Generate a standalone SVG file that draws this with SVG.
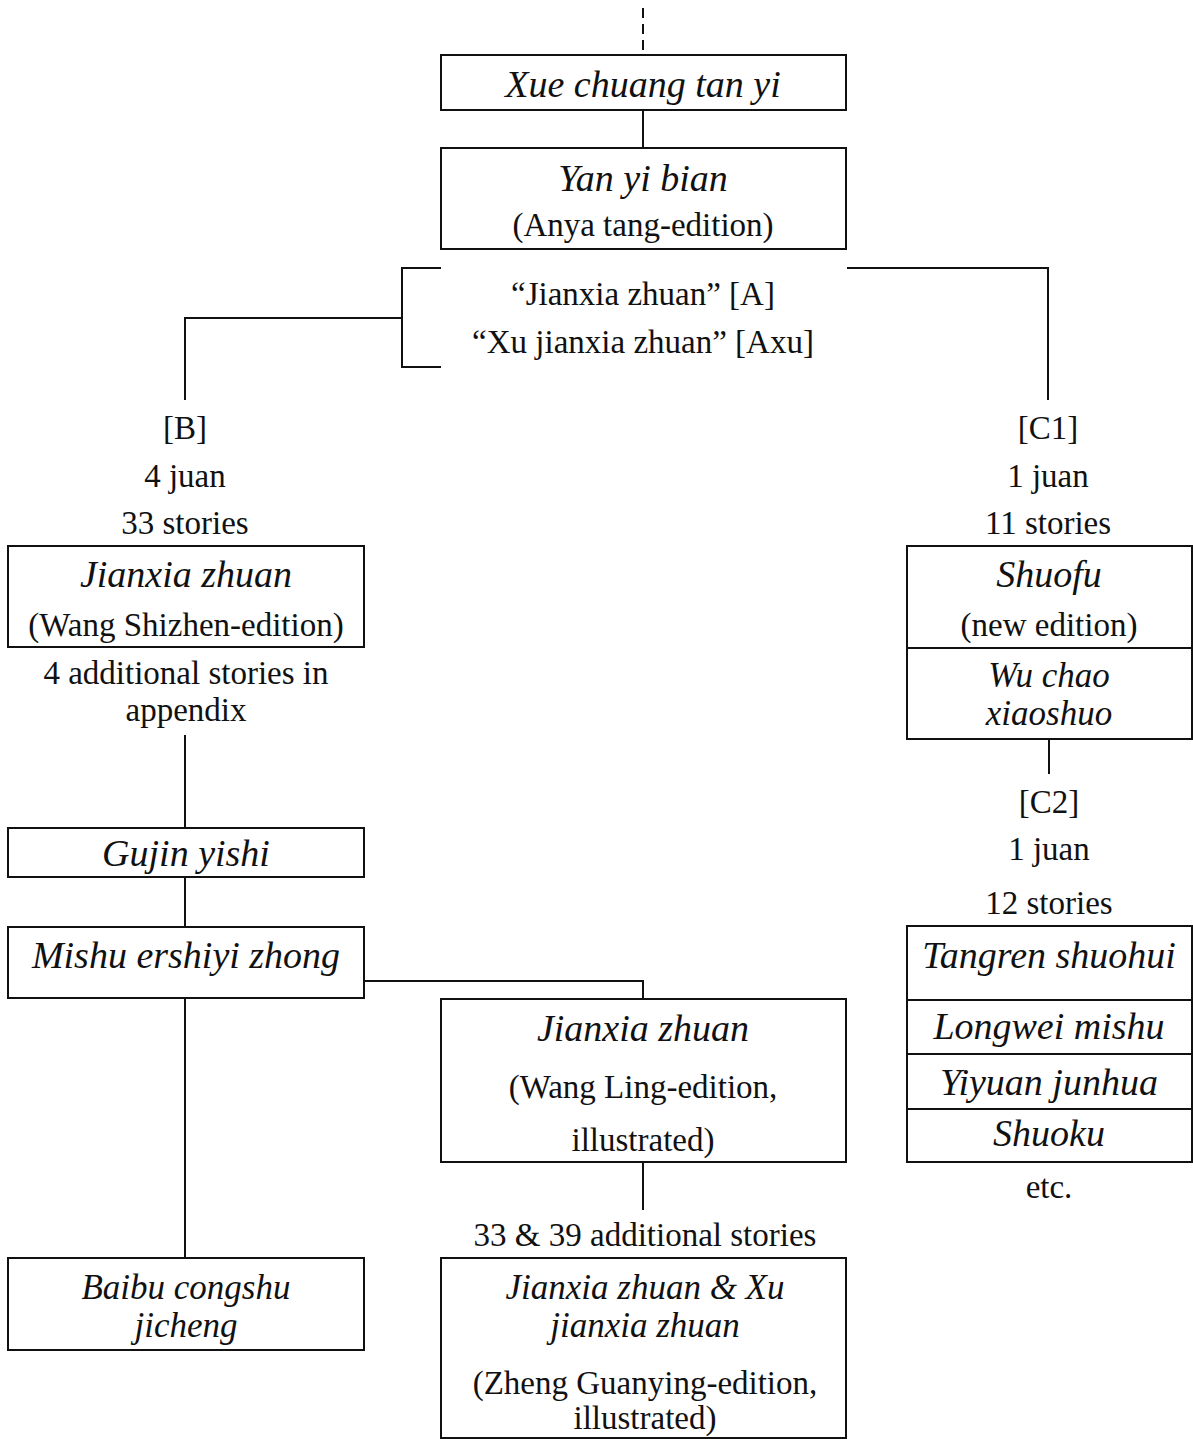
<svg xmlns="http://www.w3.org/2000/svg" width="1193" height="1439" viewBox="0 0 1193 1439">
<style>
.box{fill:#fff;stroke:#111;stroke-width:2}
.ln{fill:none;stroke:#111;stroke-width:2}
text{font-family:"Liberation Serif","DejaVu Serif",serif;fill:#111;text-anchor:middle}
.it{font-family:"Liberation Serif","DejaVu Serif",serif;font-style:italic;font-size:38px}
.it2{font-size:35px}
.rg{font-size:33px}
</style>
<rect width="1193" height="1439" fill="#fff"/>
<g id="connectors">
<line class="ln" x1="643" y1="8" x2="643" y2="55" stroke-dasharray="10 6"/>
<line class="ln" x1="643" y1="110" x2="643" y2="148"/>
<polyline class="ln" points="441,268 402,268 402,367 441,367"/>
<polyline class="ln" points="402,318 185,318 185,400"/>
<polyline class="ln" points="847,268 1048,268 1048,400"/>
<line class="ln" x1="185" y1="735" x2="185" y2="828"/>
<line class="ln" x1="185" y1="877" x2="185" y2="927"/>
<line class="ln" x1="185" y1="998" x2="185" y2="1258"/>
<polyline class="ln" points="364,981 643,981 643,999"/>
<line class="ln" x1="643" y1="1162" x2="643" y2="1210"/>
<line class="ln" x1="1049" y1="739" x2="1049" y2="774"/>
</g>
<g id="xue"><rect class="box" x="441" y="55" width="405" height="55"/><text class="it" x="643" y="97">Xue chuang tan yi</text></g>
<g id="yan"><rect class="box" x="441" y="148" width="405" height="101"/><text class="it" x="643" y="191">Yan yi bian</text><text class="rg" x="643" y="236">(Anya tang-edition)</text></g>
<g id="a-labels"><text class="rg" x="643" y="305">“Jianxia zhuan” [A]</text><text class="rg" x="643" y="353">“Xu jianxia zhuan” [Axu]</text></g>
<g id="b-labels"><text class="rg" x="185" y="439">[B]</text><text class="rg" x="185" y="487">4 juan</text><text class="rg" x="185" y="534">33 stories</text></g>
<g id="wangshizhen"><rect class="box" x="8" y="546" width="356" height="101"/><text class="it" x="186" y="587">Jianxia zhuan</text><text class="rg" x="186" y="636">(Wang Shizhen-edition)</text></g>
<g id="appendix"><text class="rg" x="186" y="684"><tspan x="186">4 additional stories in</tspan><tspan x="186" dy="37">appendix</tspan></text></g>
<g id="gujin"><rect class="box" x="8" y="828" width="356" height="49"/><text class="it" x="186" y="866">Gujin yishi</text></g>
<g id="mishu"><rect class="box" x="8" y="927" width="356" height="71"/><text class="it" x="186" y="968">Mishu ershiyi zhong</text></g>
<g id="wangling"><rect class="box" x="441" y="999" width="405" height="163"/><text class="it" x="643" y="1041">Jianxia zhuan</text><text class="rg" x="643" y="1098">(Wang Ling-edition,</text><text class="rg" x="643" y="1151">illustrated)</text></g>
<g id="add39"><text class="rg" x="645" y="1246">33 &amp; 39 additional stories</text></g>
<g id="zheng"><rect class="box" x="441" y="1258" width="405" height="180"/><text class="it it2" x="645" y="1299"><tspan x="645">Jianxia zhuan &amp; Xu</tspan><tspan x="645" dy="38">jianxia zhuan</tspan></text><text class="rg" x="645" y="1394"><tspan x="645">(Zheng Guanying-edition,</tspan><tspan x="645" dy="35">illustrated)</tspan></text></g>
<g id="baibu"><rect class="box" x="8" y="1258" width="356" height="92"/><text class="it it2" x="186" y="1299"><tspan x="186">Baibu congshu</tspan><tspan x="186" dy="38">jicheng</tspan></text></g>
<g id="c1-labels"><text class="rg" x="1048" y="439">[C1]</text><text class="rg" x="1048" y="487">1 juan</text><text class="rg" x="1048" y="534">11 stories</text></g>
<g id="shuofu"><rect class="box" x="907" y="546" width="285" height="102"/><text class="it" x="1049" y="587">Shuofu</text><text class="rg" x="1049" y="636">(new edition)</text></g>
<g id="wuchao"><rect class="box" x="907" y="648" width="285" height="91"/><text class="it it2" x="1049" y="687"><tspan x="1049">Wu chao</tspan><tspan x="1049" dy="38">xiaoshuo</tspan></text></g>
<g id="c2-labels"><text class="rg" x="1049" y="813">[C2]</text><text class="rg" x="1049" y="860">1 juan</text><text class="rg" x="1049" y="914">12 stories</text></g>
<g id="tangren"><rect class="box" x="907" y="926" width="285" height="74"/><text class="it" x="1049" y="968">Tangren shuohui</text></g>
<g id="longwei"><rect class="box" x="907" y="1000" width="285" height="54"/><text class="it" x="1049" y="1039">Longwei mishu</text></g>
<g id="yiyuan"><rect class="box" x="907" y="1054" width="285" height="55"/><text class="it" x="1049" y="1095">Yiyuan junhua</text></g>
<g id="shuoku"><rect class="box" x="907" y="1109" width="285" height="53"/><text class="it" x="1049" y="1146">Shuoku</text></g>
<g id="etc"><text class="rg" x="1049" y="1198">etc.</text></g>
</svg>
